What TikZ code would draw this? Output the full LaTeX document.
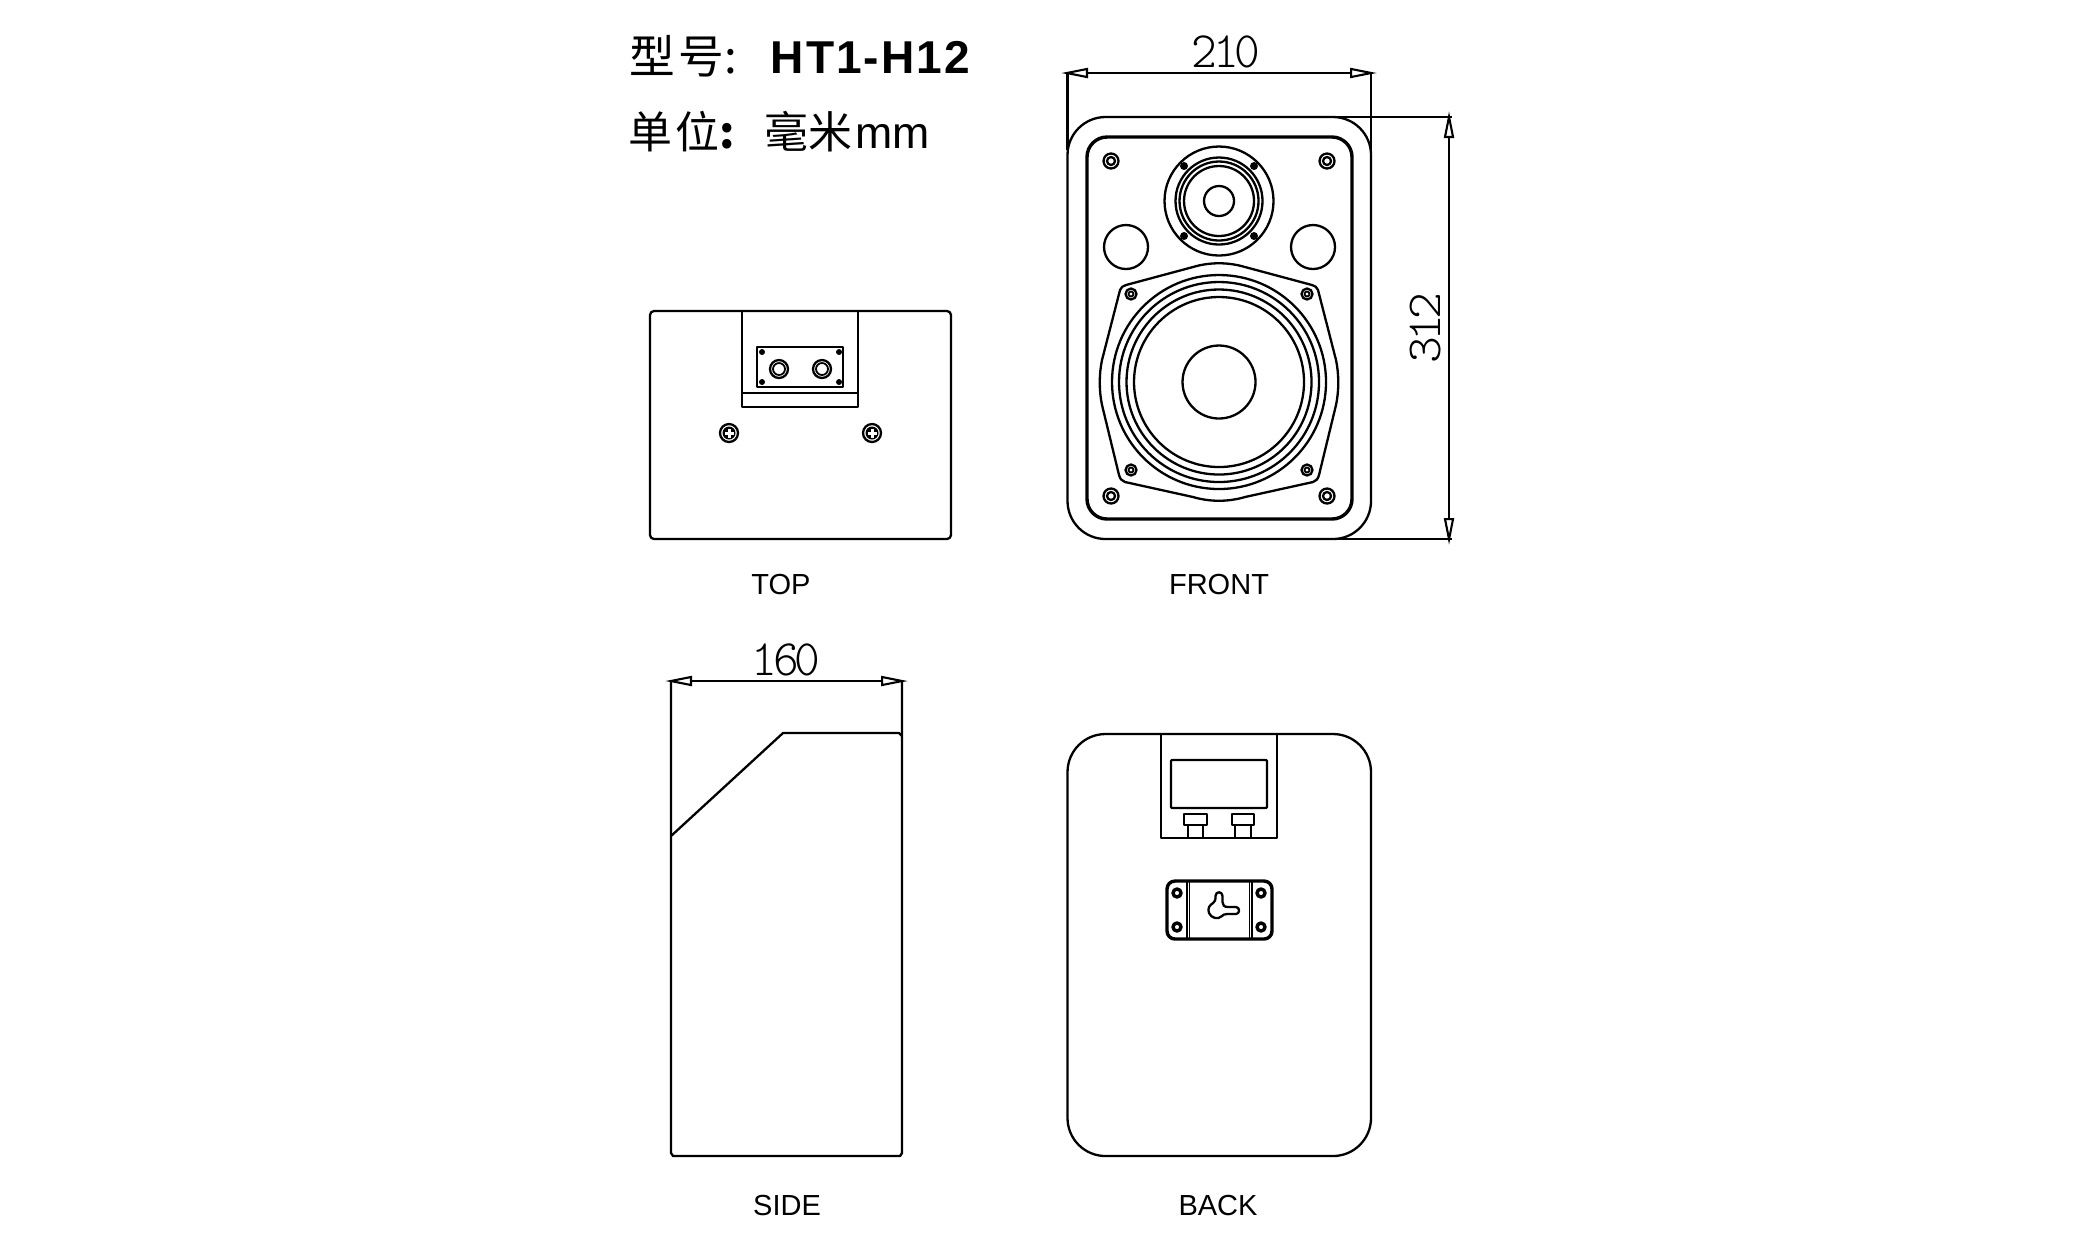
\documentclass[tikz,border=0pt]{standalone}
\usepackage{fontspec}
\setmainfont{Liberation Sans}
\newfontfamily\cjkfont{Noto Sans CJK SC}
\newfontfamily\dimfont{Latin Modern Mono Light}
\usetikzlibrary{arrows.meta}
\tikzset{
  outline/.style={line width=0.023cm,black,line join=round},
  heavyline/.style={line width=0.034cm,black,line join=round},
  thinline/.style={line width=0.018cm,black},
  dimline/.style={line width=0.021cm,black,{Triangle[open,length=0.27cm,width=0.1cm]}-{Triangle[open,length=0.27cm,width=0.1cm]}},
  dimtext/.style={font=\dimfont\fontsize{11.6pt}{12pt}\selectfont,inner sep=0pt,xscale=1.2,yscale=1.25,transform shape},
  viewname/.style={font=\fontsize{8.25pt}{10pt}\selectfont,inner sep=0pt,anchor=base},
  titlecjk/.style={font=\cjkfont\fontsize{13pt}{14pt}\selectfont,inner sep=0pt,anchor=base west},
  unitcjk/.style={font=\cjkfont\fontsize{12.5pt}{14pt}\selectfont,inner sep=0pt,anchor=base west},
  blackdot/.style={fill=black,draw=none},
  screwcross/.style={line width=0.03cm,white}
}
\begin{document}
\begin{tikzpicture}[x=0.01cm,y=-0.01cm]
\useasboundingbox (0,0) rectangle (2083,1250);
\node[titlecjk] (modelname) at (629,73) {型\hspace{0.035cm}号};
\node[titlecjk] (modelcolon) at (724,73) {:};
\node[font=\bfseries\fontsize{13.1pt}{14pt}\selectfont,inner sep=0pt,anchor=base west] (modelcode) at (770,73) {\addfontfeature{LetterSpace=4.5}HT1-H12};
\node[unitcjk] (unitname) at (628,148) {单\hspace{0.03cm}位};
\node[unitcjk,font=\cjkfont\bfseries\fontsize{12.5pt}{14pt}\selectfont] (unitcolon) at (719,148) {:};
\node[unitcjk] (unitvalue) at (764,148) {毫米};
\node[font=\fontsize{12.7pt}{14pt}\selectfont,inner sep=0pt,anchor=base west] (unitmm) at (855,148) {mm};
\draw[outline,rounded corners=0.04cm] (650,311) rectangle (951,539);
\draw[outline] (742,311) -- (742,407) -- (858,407) -- (858,311);
\draw[outline] (742,393) -- (858,393);
\draw[heavyline,line width=0.028cm] (757,347) rectangle (843,387);
\draw[blackdot] (762,352) circle (3);
\draw[blackdot] (839,352) circle (3);
\draw[blackdot] (762,382) circle (3);
\draw[blackdot] (839,382) circle (3);
\draw[outline] (779,369) circle (9);
\draw[thinline] (779,369) circle (6);
\draw[outline] (822,369) circle (9);
\draw[thinline] (822,369) circle (6);
\draw[outline] (729,433) circle (9);
\draw[blackdot] (729,433) circle (6.5);
\draw[screwcross] (724.5,433) -- (733.5,433) (729,428.5) -- (729,437.5);
\draw[outline] (872,433) circle (9);
\draw[blackdot] (872,433) circle (6.5);
\draw[screwcross] (867.5,433) -- (876.5,433) (872,428.5) -- (872,437.5);
\node[viewname] (topname) at (781,594) {TOP};
\draw[outline,rounded corners=0.38cm] (1067.5,117) rectangle (1371,539);
\draw[heavyline,rounded corners=0.2cm] (1087,137) rectangle (1352,519);
\draw[outline] (1111,161) circle (7.5);
\draw[outline] (1111,161) circle (4);
\draw[outline] (1327,161) circle (7.5);
\draw[outline] (1327,161) circle (4);
\draw[outline] (1111,496) circle (7.5);
\draw[outline] (1111,496) circle (4);
\draw[outline] (1327,496) circle (7.5);
\draw[outline] (1327,496) circle (4);
\draw[outline] (1219,201) circle (54.5);
\draw[outline] (1219,201) circle (43.5);
\draw[outline] (1219,201) circle (39.5);
\draw[outline] (1219,201) circle (35);
\draw[outline] (1219,201) circle (15);
\draw[blackdot] (1184,166) circle (4);
\draw[blackdot] (1254,166) circle (4);
\draw[blackdot] (1184,236) circle (4);
\draw[blackdot] (1254,236) circle (4);
\draw[outline] (1126,247) circle (22);
\draw[outline] (1313,247) circle (22);
\draw[outline] (1193,267) .. controls (1210,262) and (1228,262) .. (1245,267) -- (1312,285) .. controls (1315,286) and (1317,287) .. (1318,290) -- (1336,360) .. controls (1339,374) and (1339,391) .. (1336,405) -- (1319,475) .. controls (1318,479) and (1316,481) .. (1313,482) -- (1245,497) .. controls (1228,502) and (1210,502) .. (1193,497) -- (1125,482) .. controls (1122,481) and (1120,479) .. (1119,475) -- (1102,405) .. controls (1099,391) and (1099,374) .. (1102,360) -- (1120,290) .. controls (1121,287) and (1123,286) .. (1126,285) -- cycle;
\draw[outline] (1219,382) circle (107);
\draw[outline] (1219,382) circle (100);
\draw[outline] (1219,382) circle (92.5);
\draw[outline] (1219,382) circle (85);
\draw[outline] (1219,382) circle (36.5);
\draw[outline] (1131,294) circle (5.5);
\draw[thinline] (1131,294) circle (2.5);
\draw[outline] (1307,294) circle (5.5);
\draw[thinline] (1307,294) circle (2.5);
\draw[outline] (1131,470) circle (5.5);
\draw[thinline] (1131,470) circle (2.5);
\draw[outline] (1307,470) circle (5.5);
\draw[thinline] (1307,470) circle (2.5);
\node[viewname] (frontname) at (1219,594) {FRONT};
\coordinate (widthleft) at (1061,73);
\coordinate (widthright) at (1377,73);
\coordinate (heighttop) at (1449,111);
\coordinate (heightbottom) at (1449,545);
\draw[dimline] (widthleft) -- (widthright);
\draw[dimline] (heighttop) -- (heightbottom);
\draw[outline] (1067.5,72) -- (1067.5,150);
\draw[outline] (1371,72) -- (1371,150);
\draw[outline] (1338,117) -- (1452,117);
\draw[outline] (1338,539) -- (1452,539);
\node[dimtext] (widthtext) at (1226,52) {\addfontfeature{LetterSpace=-9}210};
\node[dimtext,rotate=90] (heighttext) at (1426,328) {\addfontfeature{LetterSpace=-9}312};
\draw[outline] (671,681) -- (671,1153) -- (673,1156) -- (900,1156) -- (902,1153) -- (902,681);
\draw[outline] (671,836) -- (783,733) -- (899,733) -- (902,736);
\coordinate (depthleft) at (665,681);
\coordinate (depthright) at (908,681);
\draw[dimline] (depthleft) -- (depthright);
\node[dimtext] (depthtext) at (786,660) {\addfontfeature{LetterSpace=-9}160};
\node[viewname] (sidename) at (787,1215) {SIDE};
\draw[outline,rounded corners=0.38cm] (1067.5,734) rectangle (1371,1156);
\draw[outline] (1161,734) -- (1161,838) -- (1277,838) -- (1277,734);
\draw[outline,rounded corners=0.01cm] (1171,760) rectangle (1267,808);
\draw[outline] (1184,814) rectangle (1207,825);
\draw[outline] (1188,825) -- (1188,838);
\draw[outline] (1203,825) -- (1203,838);
\draw[outline] (1232,814) rectangle (1254,825);
\draw[outline] (1235,825) -- (1235,838);
\draw[outline] (1251,825) -- (1251,838);
\draw[heavyline,rounded corners=0.08cm] (1167,881) rectangle (1272,939);
\draw[thinline] (1187,881) -- (1187,939);
\draw[thinline] (1189.5,881) -- (1189.5,939);
\draw[thinline] (1249.5,881) -- (1249.5,939);
\draw[thinline] (1252,881) -- (1252,939);
\draw[heavyline] (1177,893) circle (4);
\draw[heavyline] (1261,893) circle (4);
\draw[heavyline] (1177,927) circle (4);
\draw[heavyline] (1261,927) circle (4);
\draw[outline] (1215.5,896) .. controls (1215.5,891) and (1222.5,891) .. (1222.5,896) -- (1222.5,902) .. controls (1222.5,905) and (1224,907) .. (1228,907) -- (1236,907) .. controls (1240,907) and (1240,914) .. (1236,914) -- (1227,914) .. controls (1224,914) and (1223,915) .. (1222,916) .. controls (1218,920) and (1211,918) .. (1209,913) .. controls (1207,908) and (1210,905) .. (1213,903) .. controls (1215,902) and (1215.5,900) .. (1215.5,896) -- cycle;
\node[viewname] (backname) at (1218,1215) {BACK};
\end{tikzpicture}
\end{document}
